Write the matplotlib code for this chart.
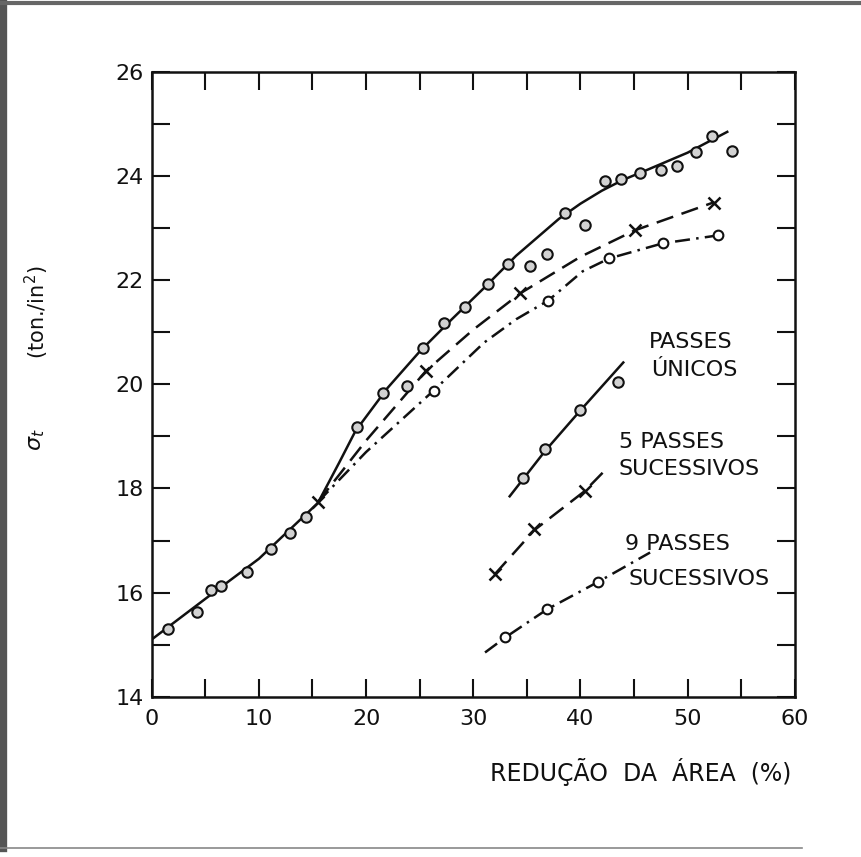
import matplotlib.pyplot as plt
from matplotlib.lines import Line2D

# curve lines (hand-faired through the measurements)
single_line_x = [0, 5, 10, 15.5, 17.5, 19, 22, 25, 28, 31, 34, 38, 40, 42, 44, 46, 50, 53.7]
single_line_y = [15.1, 15.88, 16.65, 17.72, 18.5, 19.1, 19.93, 20.63, 21.25, 21.85, 22.47, 23.18, 23.47, 23.72, 23.93, 24.1, 24.45, 24.85]

five_line_x = [15.5, 20, 25.6, 30, 34.4, 40, 45.1, 52.5]
five_line_y = [17.74, 18.92, 20.26, 21.05, 21.75, 22.45, 22.96, 23.5]

nine_line_x = [15.5, 20, 26.3, 31, 34, 37.0, 40.2, 42.7, 47.7, 52.8]
nine_line_y = [17.74, 18.7, 19.88, 20.8, 21.25, 21.61, 22.17, 22.42, 22.71, 22.86]

# measured points
single_x = [1.5, 4.2, 5.5, 6.5, 8.85, 11.1, 12.9, 14.4, 19.2, 21.6, 23.8, 25.3, 27.3, 29.2,
            31.4, 33.2, 35.3, 36.9, 38.6, 40.4, 42.3, 43.8, 45.6, 47.5, 49.0, 50.8, 52.3, 54.1]
single_y = [15.3, 15.62, 16.05, 16.12, 16.39, 16.83, 17.14, 17.45, 19.18, 19.83, 19.97, 20.7, 21.17, 21.49,
            21.92, 22.32, 22.28, 22.5, 23.29, 23.06, 23.9, 23.94, 24.06, 24.12, 24.2, 24.46, 24.77, 24.48]

five_x = [15.5, 25.6, 34.4, 45.1, 52.5]
five_y = [17.74, 20.26, 21.75, 22.96, 23.48]

nine_x = [26.3, 37.0, 42.7, 47.7, 52.8]
nine_y = [19.88, 21.61, 22.42, 22.71, 22.86]

# short separate curves on the lower right
single_short_line_x = [33.4, 36.7, 40.0, 44.0]
single_short_line_y = [17.85, 18.72, 19.5, 20.42]
single_short_x = [34.6, 36.7, 40.0, 43.5]
single_short_y = [18.2, 18.76, 19.51, 20.05]

five_short_line_x = [32.0, 35.7, 40.4, 42.3]
five_short_line_y = [16.35, 17.2, 17.95, 18.35]
five_short_x = [32.0, 35.7, 40.4]
five_short_y = [16.35, 17.22, 17.95]

nine_short_line_x = [31.1, 33.0, 36.9, 41.6, 46.5]
nine_short_line_y = [14.85, 15.14, 15.68, 16.2, 16.77]
nine_short_x = [33.0, 36.9, 41.6]
nine_short_y = [15.14, 15.68, 16.2]

x_ticks = [0, 10, 20, 30, 40, 50, 60]
y_ticks = [14, 16, 18, 20, 22, 24, 26]

ink = '#111111'
lw = 1.8
solid = dict(color=ink, linewidth=lw, linestyle='-')
dashed = dict(color=ink, linewidth=lw, dashes=(7, 3.5))
dashdot = dict(color=ink, linewidth=lw, dashes=(6, 2.5, 1, 2.5))
circ = dict(marker='o', ms=7.5, mfc='#d2d2d2', mec=ink, mew=1.5, ls='none')
cross = dict(marker='x', ms=8, mec=ink, mew=1.8, ls='none')
ring = dict(marker='o', ms=7, mfc='white', mec=ink, mew=1.5, ls='none')

fig = plt.figure(figsize=(8.62, 8.57), dpi=100)
ax = fig.add_axes([0.176, 0.187, 0.746, 0.729])

# main curves
ax.plot(single_line_x, single_line_y, **solid)
ax.plot(five_line_x, five_line_y, **dashed)
ax.plot(nine_line_x, nine_line_y, **dashdot)
ax.plot(single_x, single_y, **circ)
ax.plot(five_x, five_y, **cross)
ax.plot(nine_x, nine_y, **ring)

# separate short curves
ax.plot(single_short_line_x, single_short_line_y, **solid)
ax.plot(single_short_x, single_short_y, **circ)
ax.plot(five_short_line_x, five_short_line_y, **dashed)
ax.plot(five_short_x, five_short_y, **cross)
ax.plot(nine_short_line_x, nine_short_line_y, **dashdot)
ax.plot(nine_short_x, nine_short_y, **ring)

lab = dict(fontsize=16, color=ink, va='center', ha='left')
ax.text(46.4, 20.82, 'PASSES', **lab)
ax.text(46.6, 20.28, 'ÚNICOS', **lab)
ax.text(43.6, 18.89, '5 PASSES', **lab)
ax.text(43.6, 18.37, 'SUCESSIVOS', **lab)
ax.text(44.2, 16.93, '9 PASSES', **lab)
ax.text(44.5, 16.27, 'SUCESSIVOS', **lab)

ax.set_xlim(0, 60)
ax.set_ylim(14, 26)
ax.set_xticks(x_ticks)
ax.set_xticks(range(5, 60, 10), minor=True)
ax.set_yticks(y_ticks)
ax.set_yticks(range(15, 26, 2), minor=True)
ax.tick_params(which='both', direction='in', length=13, width=1.5, color=ink,
               top=True, right=True, labelsize=16, labelcolor=ink)
ax.tick_params(axis='x', pad=9)
ax.tick_params(axis='y', pad=6)
for s in ax.spines.values():
    s.set_linewidth(1.8)
    s.set_color(ink)

fig.text(0.918, 1 - 772 / 857, 'REDUÇÃO  DA  ÁREA  (%)', fontsize=17, color=ink,
         ha='right', va='center')
fig.text(0.043, 1 - 440 / 857, r'$\sigma_t$', rotation=90, fontsize=16,
         color=ink, ha='center', va='center')
fig.text(0.043, 1 - 312 / 857, '(ton./in$^2$)', rotation=90, fontsize=15,
         color=ink, ha='center', va='center')

# scanned page edges
fig.add_artist(Line2D([0.004, 0.004], [0.01, 1.0], transform=fig.transFigure,
                      color='#555555', linewidth=6))
fig.add_artist(Line2D([0.0, 1.0], [0.997, 0.997], transform=fig.transFigure,
                      color='#666666', linewidth=3))
fig.add_artist(Line2D([0.0, 0.93], [0.011, 0.011], transform=fig.transFigure,
                      color='#888888', linewidth=1.2))

fig.savefig('out.png', dpi=100)
